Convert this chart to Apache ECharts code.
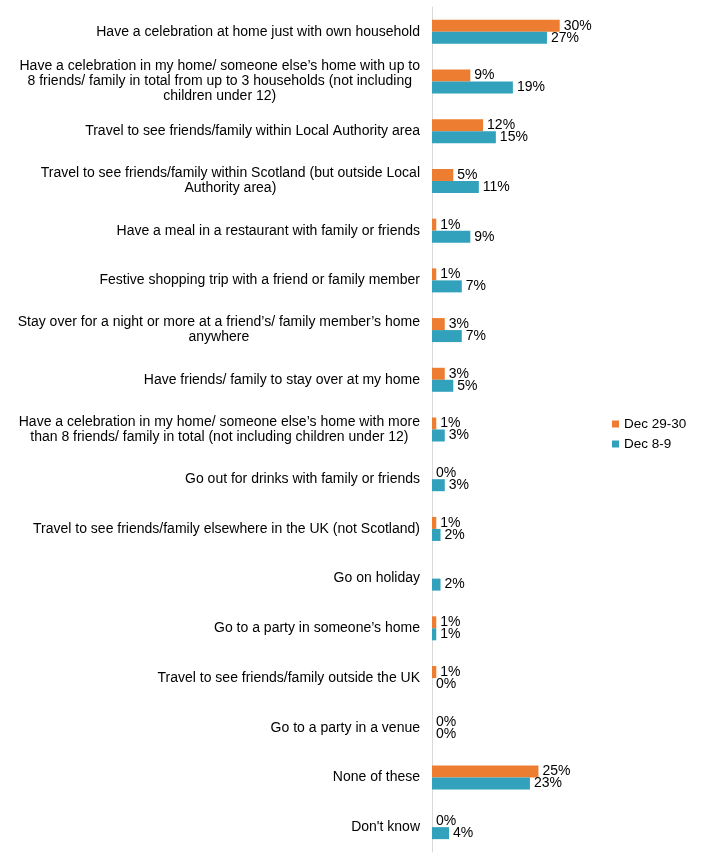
<!DOCTYPE html>
<html>
<head>
<meta charset="utf-8">
<script src="https://cdn.jsdelivr.net/npm/echarts@6/dist/echarts.min.js"></script>
<style>
  html, body { margin: 0; padding: 0; background: #fff; }
  #chart { width: 721px; height: 856px; }
</style>
</head>
<body>
<div id="chart"></div>
<script>
// Activities (top to bottom), labels wrapped as in the source
var categories = [
  'Have a celebration at home just with own household',
  'Have a celebration in my home/ someone else\u2019s home with up to\n8 friends/ family in total from up to 3 households (not including\nchildren under 12)',
  'Travel to see friends/family within Local Authority area',
  'Travel to see friends/family within Scotland (but outside Local\nAuthority area)',
  'Have a meal in a restaurant with family or friends',
  'Festive shopping trip with a friend or family member',
  'Stay over for a night or more at a friend\u2019s/ family member\u2019s home\nanywhere',
  'Have friends/ family to stay over at my home',
  'Have a celebration in my home/ someone else\u2019s home with more\nthan 8 friends/ family in total (not including children under 12)',
  'Go out for drinks with family or friends',
  'Travel to see friends/family elsewhere in the UK (not Scotland)',
  'Go on holiday',
  'Go to a party in someone\u2019s home',
  'Travel to see friends/family outside the UK',
  'Go to a party in a venue',
  'None of these',
  "Don't know"
];

var seriesNames = ['Dec 29-30', 'Dec 8-9'];
var dec2930 = [30, 9, 12, 5, 1, 1, 3, 3, 1, 0, 1, '-', 1, 1, 0, 25, 0];
var dec89 = [27, 19, 15, 11, 9, 7, 7, 5, 3, 3, 2, 2, 1, 0, 0, 23, 4];

var colors = ['#ED7D31', '#31A1BC'];
var font = "'Liberation Sans', Arial, sans-serif";

var chart = echarts.init(document.getElementById('chart'));

function barSeries(name, data, color) {
  return {
    name: name,
    type: 'bar',
    data: data,
    barWidth: 12,
    barGap: '0%',
    itemStyle: {color: color},
    label: {
      show: true,
      position: 'right',
      distance: 4,
      fontSize: 14,
      fontFamily: font,
      color: '#000',
      formatter: '{c}%'
    }
  };
}

chart.setOption({
  animation: false,
  textStyle: {fontFamily: font},
  legend: {
    orient: 'vertical',
    left: 607,
    top: 412,
    itemWidth: 7,
    itemHeight: 7,
    itemGap: 6,
    icon: 'rect',
    data: seriesNames,
    textStyle: {fontSize: 13.5, color: '#000', fontFamily: font}
  },
  grid: {
    left: 432,
    top: 7,
    width: 149,
    height: 845,
    containLabel: false,
    outerBoundsMode: 'none'
  },
  xAxis: {
    type: 'value',
    min: 0,
    max: 35,
    show: false
  },
  yAxis: {
    type: 'category',
    inverse: true,
    data: categories,
    axisLine: {lineStyle: {color: '#d9d9d9', width: 1}},
    axisTick: {show: false},
    axisLabel: {
      margin: 12,
      align: 'right',
      // each line is its own centred token, so wrapped labels are centred as a block
      formatter: function(v) {
        return v.split('\n').map(function(line) { return '{c|' + line + '}'; }).join('\n');
      },
      rich: {
        c: {
          align: 'center',
          fontSize: 14,
          lineHeight: 15,
          color: '#000',
          fontFamily: font
        }
      }
    }
  },
  series: [
    barSeries(seriesNames[0], dec2930, colors[0]),
    barSeries(seriesNames[1], dec89, colors[1])
  ]
});
</script>
</body>
</html>
